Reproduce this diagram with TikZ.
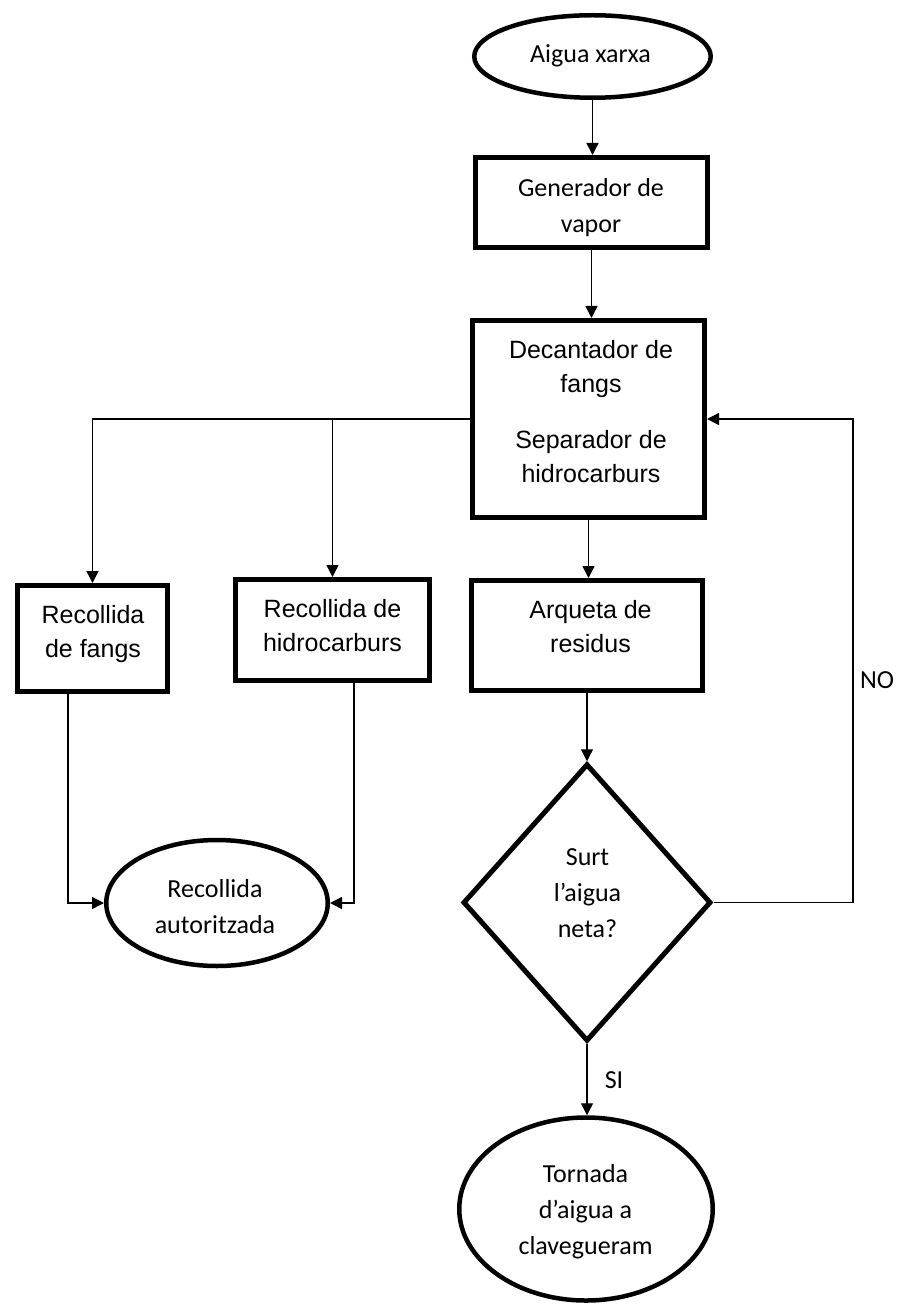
\documentclass[tikz,border=0pt]{standalone}
\usepackage{fontspec}
\newfontfamily\carl{Carlito}
\newfontfamily\arl{Liberation Sans}
\usetikzlibrary{shapes.geometric,arrows.meta}
\tikzset{
  boxnode/.style={draw, rectangle, line width=5pt, inner sep=0pt},
  ellnode/.style={draw, ellipse, line width=4.5pt, inner sep=0pt},
  dianode/.style={draw, diamond, line width=5pt, inner sep=0pt},
  ctext/.style={align=center, inner sep=0pt, font=\carl\fontsize{26}{36}\selectfont},
  atext/.style={align=center, inner sep=0pt, font=\arl\fontsize{25}{34.5}\selectfont},
  conn/.style={line width=1.4pt},
  arr/.style={conn, -{Triangle[length=12pt,width=12pt]}},
}
\begin{document}
\begin{tikzpicture}[x=1pt,y=-1pt]
\useasboundingbox (0,0) rectangle (899,1305);
% shapes
\node[ellnode, minimum width=236.5pt, minimum height=82.5pt] (aigua) at (592.5,56.5) {};
\node[boxnode, minimum width=232pt, minimum height=90pt] (gen) at (591.5,202.5) {};
\node[boxnode, minimum width=232pt, minimum height=197pt] (dec) at (588.5,419) {};
\node[boxnode, minimum width=150pt, minimum height=106pt] (fangs) at (92.5,638.5) {};
\node[boxnode, minimum width=194pt, minimum height=101pt] (hid) at (332.5,630) {};
\node[boxnode, minimum width=231pt, minimum height=110pt] (arq) at (587,635.5) {};
\node[dianode, minimum width=248pt, minimum height=277.5pt] (dia) at (587,902.5) {};
\node[ellnode, minimum width=221.5pt, minimum height=126pt] (aut) at (217,903) {};
\node[ellnode, minimum width=253.5pt, minimum height=183pt] (torn) at (586,1209) {};
% texts
\node[ctext] (taigua) at (590.5,55.8) {\strut Aigua xarxa};
\node[ctext] (tgen) at (591,207.8) {\strut Generador de\\\strut vapor};
\node[atext] (tdec1) at (591,368.35) {\strut Decantador de\\\strut fangs};
\node[atext] (tdec2) at (591,458.35) {\strut Separador de\\\strut hidrocarburs};
\node[atext] (tfangs) at (93,633.35) {\strut Recollida\\\strut de fangs};
\node[atext] (thid) at (332.5,627.35) {\strut Recollida de\\\strut hidrocarburs};
\node[atext] (tarq) at (590.5,628.35) {\strut Arqueta de\\\strut residus};
\node[ctext] (tdia) at (587.5,893.8) {\strut Surt\\\strut l’aigua\\\strut neta?};
\node[ctext] (taut) at (215,907.8) {\strut Recollida\\\strut autoritzada};
\node[ctext] (ttorn) at (585.5,1210.8) {\strut Tornada\\\strut d’aigua a\\\strut clavegueram};
\node[ctext] (tno) at (877,680.8) {\strut NO};
\node[ctext] (tsi) at (614,1080.8) {\strut SI};
% connectors
\coordinate (nocorner) at (853,419);
\draw[arr] (aigua.south) -- (aigua.south |- gen.north);
\draw[arr] (gen.south) -- (gen.south |- dec.north);
\draw[arr] (dec.west) -| (fangs.north);
\draw[arr] (hid.north |- dec.west) -- (hid.north);
\draw[arr] (dec.south) -- (dec.south |- arq.north);
\draw[arr] (arq.south) -- (dia.north);
\draw[arr] (dia.south) -- (dia.south |- torn.north);
\draw[arr] (dia.east) -| (nocorner) -- (dec.east);
\draw[arr] ([xshift=-24.5pt]fangs.south) |- (aut.west);
\draw[arr] ([xshift=21.5pt]hid.south) |- (aut.east);
\end{tikzpicture}
\end{document}
